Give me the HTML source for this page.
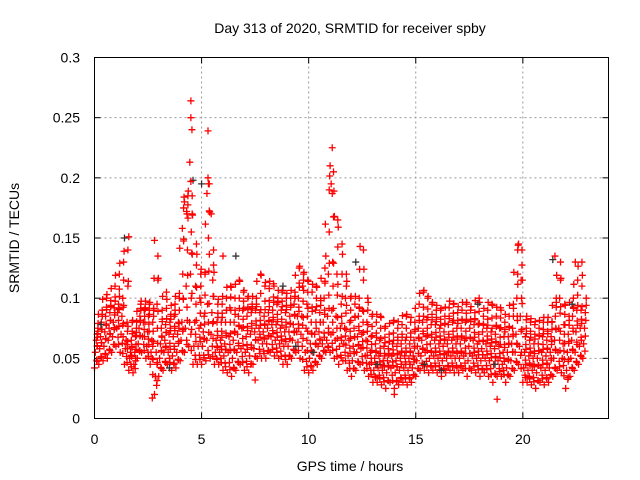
<!DOCTYPE html>
<html><head><meta charset="utf-8"><style>
body{margin:0;background:#fff}
svg{display:block;font-family:"Liberation Sans",sans-serif}
</style></head><body>
<svg id="chart" width="640" height="480">
<rect width="640" height="480" fill="#fff"/>
<text x="350" y="33" font-size="14" text-anchor="middle">Day 313 of 2020, SRMTID for receiver spby</text>
<text transform="translate(19,238) rotate(-90)" font-size="14" text-anchor="middle">SRMTID / TECUs</text>
<text x="350" y="471" font-size="14" text-anchor="middle">GPS time / hours</text>
<g id="grid"></g>
<g id="ticks"></g>
<g id="marks"></g>
<rect x="94.5" y="57.5" width="514" height="361" fill="none" stroke="#000" stroke-width="1"/>
</svg>
<script>
// values in units of 0.001 TECU, one entry per 0.2 h step starting at 0 h
const stepHours = 0.2;
const s1 = [42,45,48,50,55, 60,55,45,40,38, 50,55,50,45,20, 35,40,45,40,42, 48,55,60,45,45, 45,48,50,45,45, 40,38,35,40,45, 40,38,45,50,50, 50,55,52,50,45, 45,50,55,50,40, 38,40,45,50,55, 55,50,45,48,40, 35,40,45,40,35, 30,30,28,25,30, 25,28,30,28,30, 35,40,40,38,40, 38,35,38,40,38, 38,40,35,40,38, 35,38,35,30,35, 35,30,35,40,45, 30,30,28,25,30, 28,30,35,40,38, 25,35,40,45,50];
const s2 = [55,58,60,65,68, 75,70,58,50,45, 62,68,60,55,35, 50,55,55,52,55, 65,75,80,60,60, 60,65,70,55,55, 52,55,50,55,58, 55,52,58,65,62, 62,68,65,62,60, 60,65,72,70,55, 50,55,60,62,65, 70,65,60,62,52, 48,55,58,52,45, 40,42,40,38,42, 38,40,42,40,42, 48,52,55,50,52, 50,48,50,52,50, 50,52,48,52,50, 48,50,48,45,48, 45,42,48,55,60, 42,40,40,38,42, 40,42,50,55,50, 40,50,55,60,62];
const s3 = [65,68,72,75,80, 88,85,65,55,55, 75,80,72,65,55, 62,65,70,68,70, 80,110,120,80,75, 72,95,88,65,65, 62,68,65,70,75, 68,70,72,75,72, 75,78,78,75,72, 72,78,85,85,75, 62,70,72,80,85, 90,85,75,75,65, 60,68,70,65,55, 50,52,48,48,52, 48,50,52,50,52, 60,65,68,62,65, 62,60,62,65,62, 62,65,60,65,62, 58,62,60,58,60, 55,55,62,70,85, 55,52,50,50,55, 52,55,65,75,62, 55,65,72,75,75];
const s4 = [70,80,85,88,92, 95,100,80,65,68, 85,90,85,80,95, 75,78,80,85,80, 120,170,155,110,100, 85,150,115,80,80, 80,92,80,85,90, 85,88,90,88,85, 88,90,95,90,88, 85,95,100,110,95, 80,90,88,100,120, 130,120,95,100,80, 75,85,90,80,68, 62,65,60,58,62, 60,62,65,62,65, 75,80,82,78,78, 75,72,78,80,75, 75,80,75,78,78, 72,75,72,70,75, 68,68,75,100,115, 68,65,62,62,68, 65,68,85,100,78, 70,85,90,90,88];
const s5 = [75,90,100,98,110, 120,130,140,80,75, 95,92,95,90,135, 90,105,85,95,100, 175,185,185,145,120, 120,195,140,95,95, 100,110,100,115,105, 100,95,100,120,110, 108,112,100,105,100, 100,105,125,120,115, 105,110,100,125,190, 205,165,145,120,100, 95,100,140,100,85, 80,85,75,70,80, 75,78,85,80,80, 95,105,100,95,90, 90,85,92,95,88, 90,95,90,88,100, 85,90,95,85,92, 80,85,95,140,140, 82,80,78,75,80, 80,80,100,130,95, 85,100,115,130,100];
const peakHours = [4.5,4.5,4.55,4.45,5.3,5.3,5.32,4.5,11.1,11.0,11.05,11.1,4.3,4.2,19.8,21.5,22.45,1.6,2.8,2.7,7.5,14.0,18.8,11.2,5.45,6.0,12.4,10.8,4.1,5.25];
const peakVals  = [264,250,240,213,239,200,195,197,225,210,195,187,172,180,145,135,130,151,148,17,32,20,16,168,170,135,143,135,158,187];
const blackHours = [1.4,3.5,4.6,5.0,6.6,8.8,10.2,12.2,13.2,15.4,17.9,18.7,21.4,22.3,0.3,9.4,16.2];
const blackVals  = [150,42,198,195,135,110,55,130,45,45,95,45,132,95,78,60,40];
const xTicks = [0,5,10,15,20];
const yTicks = [0,0.05,0.1,0.15,0.2,0.25,0.3];
const yTickLabels = ["0","0.05","0.1","0.15","0.2","0.25","0.3"];

const X0=94.5,X1=608.5,Y0=418.5,Y1=57.5;
const xs=h=>X0+h/24*(X1-X0);
const ys=v=>Y0-v/0.3*(Y0-Y1);
const NS='http://www.w3.org/2000/svg';
const grid=document.getElementById('grid'),ticks=document.getElementById('ticks'),marks=document.getElementById('marks');
function el(tag,attrs,parent){const e=document.createElementNS(NS,tag);for(const k in attrs)e.setAttribute(k,attrs[k]);parent.appendChild(e);return e;}
xTicks.forEach(t=>{
  const x=xs(t);
  if(t>0){const g=el('line',{x1:x,x2:x,y1:Y0,y2:Y1,stroke:'#999','stroke-dasharray':'2,3'},grid);
  
  }
  el('line',{x1:x,x2:x,y1:Y0,y2:Y0-6,stroke:'#000'},ticks);
  el('line',{x1:x,x2:x,y1:Y1,y2:Y1+6,stroke:'#000'},ticks);
  const tx=el('text',{x:x,y:444,'font-size':14,'text-anchor':'middle'},ticks);tx.textContent=t;
  
  
});
yTicks.forEach((v,i)=>{
  const y=ys(v);
  if(v>0&&v<0.3){const g=el('line',{x1:X0,x2:X1,y1:y,y2:y,stroke:'#999','stroke-dasharray':'2,3'},grid);
  
  }
  el('line',{x1:X0,x2:X0+6,y1:y,y2:y,stroke:'#000'},ticks);
  el('line',{x1:X1,x2:X1-6,y1:y,y2:y,stroke:'#000'},ticks);
  const tx=el('text',{x:80,y:y+5,'font-size':14,'text-anchor':'end'},ticks);tx.textContent=yTickLabels[i];
  
  
});
function plus(h,v,color){
  const x=xs(h),y=ys(v);
  const p=el('path',{d:`M${x-3.5},${y}h7M${x},${y-3.5}v7`,stroke:color,'stroke-width':1.3,fill:'none'},marks);
  
  
}
const series=[s1,s2,s3,s4,s5];
series.forEach((s,k)=>{
  s.forEach((v,i)=>{
    const h=i*stepHours;
    plus(h+k*0.04,v/1000,'#f00');
    if(k<4){const mid=(v+series[k+1][i])/2;plus(h+0.1+k*0.02,mid/1000,'#f00');}
    if(i+1<s.length){plus(h+0.12+k*0.015,(v+s[i+1])/2000+0.004,'#f00');}
  });
});
blackHours.forEach((h,i)=>plus(h,blackVals[i]/1000,'#333'));
peakHours.forEach((h,i)=>plus(h,peakVals[i]/1000,'#f00'));
</script>
</body></html>
